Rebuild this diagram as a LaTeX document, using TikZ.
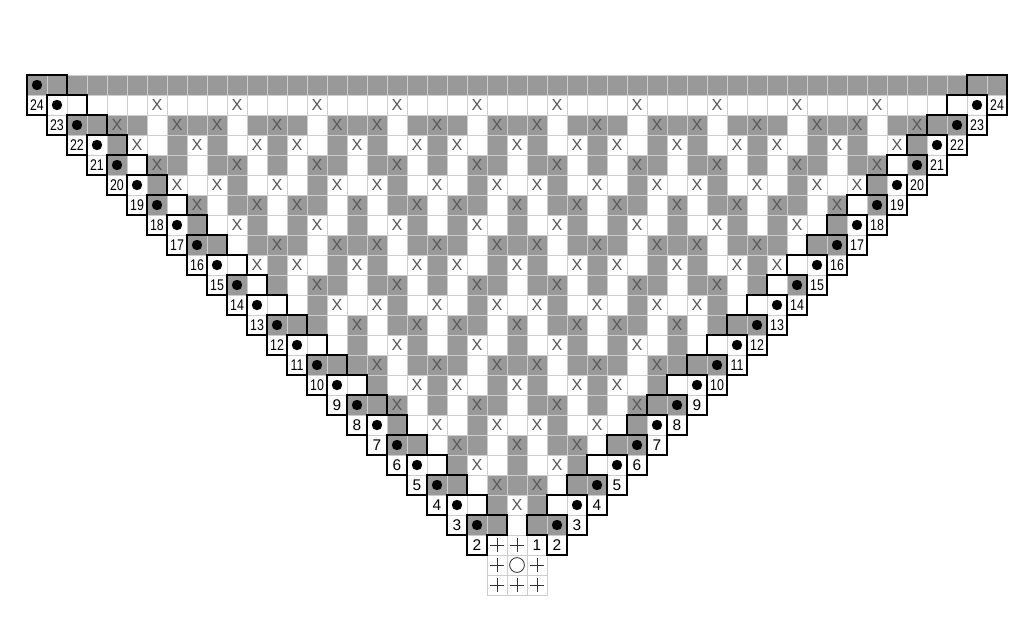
\documentclass[tikz,border=0pt]{standalone}
\usepackage{fontspec}
\setmainfont{Liberation Sans}
\definecolor{chartgray}{RGB}{153,153,153}
\definecolor{gridgray}{RGB}{205,205,205}
\tikzset{
cellbox/.style={draw=gridgray, line width=0.6pt},
edgebox/.style={draw=black, line width=2pt, line join=miter},
rownum/.style={font=\fontsize{11}{11}\selectfont, inner sep=0pt},
xstitch/.style={font=\fontsize{11.5}{11.5}\selectfont, text=black!65, inner sep=0pt},
symline/.style={draw=black!80, line width=0.6pt}
}
% 1 if cell (#1,#2) carries an X
\newcommand\stitchtest[2]{%
  \pgfmathtruncatemacro{\xres}{(((#1)>=(#2)+2) && ((#1)<=46-(#2))) &&
    (((mod(#2,3)==1) && (mod(#1,4)==2)) ||
     ((mod(#2,3)==2) && ((mod(#1,8)==1) || (mod(#1,8)==4) || (mod(#1,8)==7))) ||
     ((mod(#2,3)==0) && ((#2)>0) && ((mod(#1,8)==0) || (mod(#1,8)==3) || (mod(#1,8)==5))))}}

\begin{document}
\begin{tikzpicture}[x=0.5cm, y=-0.5cm]
    \useasboundingbox (-1.35,-3.75) rectangle (49.85,27.9);
    % chart cells, row by row
    \foreach \i in {0,...,22}{
      \pgfmathtruncatemacro{\clast}{48-\i}
      \foreach \c in {\i,...,\clast}{
        \stitchtest{\c}{\i-1}\let\above\xres
        \stitchtest{\c}{\i}
        \pgfmathtruncatemacro{\shade}{\above==1 ? mod(\i+1,2) : mod(\i,2)}
        \ifnum\shade=0 \def\cellfill{chartgray}\else\def\cellfill{white}\fi
        \filldraw[cellbox, fill=\cellfill] (\c,\i) rectangle ++(1,1);
        \ifnum\xres=1 \node[xstitch] at (\c+.5,\i+.5) {X};\fi
      }
    }
    % row numbers
    \foreach \i in {1,...,23}{
      \pgfmathtruncatemacro{\rowno}{25-\i}
      \pgfmathtruncatemacro{\cl}{\i-1}
      \pgfmathtruncatemacro{\cr}{49-\i}
      \ifnum\rowno>9 \def\squash{0.8}\else\def\squash{1}\fi
      \filldraw[cellbox, fill=white] (\cl,\i) rectangle ++(1,1);
      \filldraw[cellbox, fill=white] (\cr,\i) rectangle ++(1,1);
      \node[rownum] at (\cl+.5,\i+.5) {\scalebox{\squash}[1]{\rowno}};
      \node[rownum] at (\cr+.5,\i+.5) {\scalebox{\squash}[1]{\rowno}};
    }
    % starting ring
    \foreach \i in {23,24,25}
      \foreach \c in {23,24,25}
        \filldraw[cellbox, fill=white] (\c,\i) rectangle ++(1,1);
    \foreach \c/\i in {23/23,24/23,23/24,25/24,23/25,24/25,25/25}
      \draw[symline] (\c+.17,\i+.5) -- (\c+.83,\i+.5) (\c+.5,\i+.17) -- (\c+.5,\i+.83);
    \draw[symline] (24.5,24.5) circle[radius=1.85mm];
    \node[rownum] at (25.5,23.5) {1};
    % thick edge steps
    \foreach \r in {0,...,22}{
      \draw[edgebox] (\r,\r) -- (\r+2,\r) -- (\r+2,\r+1) -- (\r+1,\r+1)
        -- (\r+1,\r+2) -- (\r,\r+2) -- cycle;
      \draw[edgebox] (47-\r,\r) -- (49-\r,\r) -- (49-\r,\r+2) -- (48-\r,\r+2)
        -- (48-\r,\r+1) -- (47-\r,\r+1) -- cycle;
      \fill (\r+.5,\r+.5) circle[radius=1.3mm];
    }
    \foreach \r in {1,...,22}
      \fill (48.5-\r,\r+.5) circle[radius=1.3mm];
\end{tikzpicture}
\end{document}
